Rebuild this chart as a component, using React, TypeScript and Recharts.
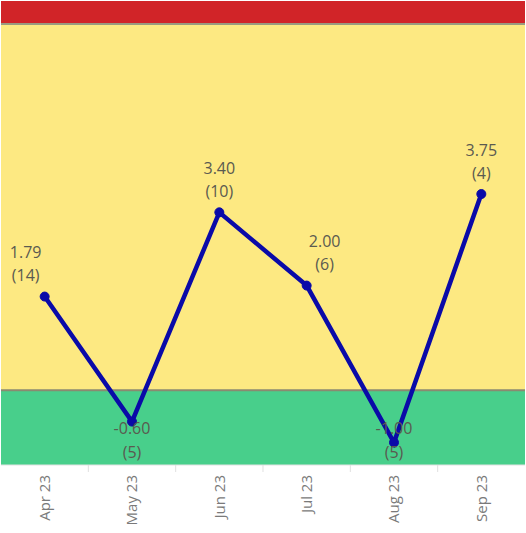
import { LineChart, Line, XAxis, YAxis, ReferenceArea, ReferenceLine } from "recharts";

const months = ["Apr 23", "May 23", "Jun 23", "Jul 23", "Aug 23", "Sep 23"];
const scores = [1.79, -0.6, 3.4, 2.0, -1.0, 3.75];
const counts = [14, 5, 10, 6, 5, 4];

// band limits
const yMin = -1.43;
const yMax = 7.44;
const upperLimit = 7;

const W = 526;
const H = 533;
const AXIS_H = 68;
const M = { top: 1, right: 1, bottom: 0, left: 1 };
const plotBottom = H - AXIS_H;
const band = (W - M.left - M.right) / months.length;

const data = months.map((m, i) => ({ month: m, score: scores[i], n: counts[i] }));

const FONT = "'Open Sans', sans-serif";

function PointLabel(props: any) {
  const { x, y, index } = props;
  const v = scores[index];
  const prev = scores[index - 1];
  const next = scores[index + 1];
  // nudge labels off the line
  let dx = 0;
  if (index === 0) dx = -19;
  else if (prev !== undefined && next !== undefined && prev > v && next < v) dx = 18;

  let y1: number;
  let y2: number;
  if (v >= 0) {
    y1 = y - 44;
    y2 = y - 21;
  } else {
    y2 = Math.min(y + 31, plotBottom - 13);
    y1 = y2 - 24;
  }
  const style = { fontFamily: FONT, fontSize: 16, fill: "#5a5a50" };
  return (
    <g>
      <text x={x + dx} y={y1} dy="0.35em" textAnchor="middle" {...style}>
        {v.toFixed(2)}
      </text>
      <text x={x + dx} y={y2} dy="0.35em" textAnchor="middle" {...style}>
        ({counts[index]})
      </text>
    </g>
  );
}

function MonthTick(props: any) {
  const { x, y, payload, index } = props;
  return (
    <g transform={`translate(${x},${y})`}>
      {index < months.length - 1 && (
        <line x1={band / 2} y1={0} x2={band / 2} y2={7} stroke="#e0e0e0" />
      )}
      <text
        transform="rotate(-90)"
        x={-10}
        y={0}
        dy="0.35em"
        textAnchor="end"
        fontFamily={FONT}
        fontSize={15}
        fill="#7a7a7a"
      >
        {payload.value}
      </text>
    </g>
  );
}

export default function App() {
  return (
    <div style={{ position: "absolute", left: 0, top: 0, background: "#fff" }}>
      <LineChart width={W} height={H} data={data} margin={M}>
        <XAxis
          dataKey="month"
          scale="band"
          interval={0}
          tickLine={false}
          tickSize={0}
          tickMargin={0}
          height={AXIS_H}
          axisLine={{ stroke: "#e2e2e2" }}
          tick={<MonthTick />}
        />
        <YAxis hide domain={[yMin, yMax]} allowDataOverflow />
        <ReferenceArea y1={upperLimit} y2={yMax} fill="#d12428" fillOpacity={1} stroke="none" />
        <ReferenceArea y1={0} y2={upperLimit} fill="#fde982" fillOpacity={1} stroke="none" />
        <ReferenceArea y1={yMin} y2={0} fill="#48cf8b" fillOpacity={1} stroke="none" />
        <ReferenceLine y={upperLimit} stroke="#9a9a80" strokeWidth={2} />
        <ReferenceLine y={0} stroke="#8a8a70" strokeWidth={2} />
        <Line
          dataKey="score"
          stroke="#0a0aa8"
          strokeWidth={4.5}
          dot={{ r: 4.5, fill: "#0a0aa8", stroke: "#0a0aa8", strokeWidth: 1 }}
          activeDot={false}
          isAnimationActive={false}
          label={<PointLabel />}
        />
      </LineChart>
    </div>
  );
}
